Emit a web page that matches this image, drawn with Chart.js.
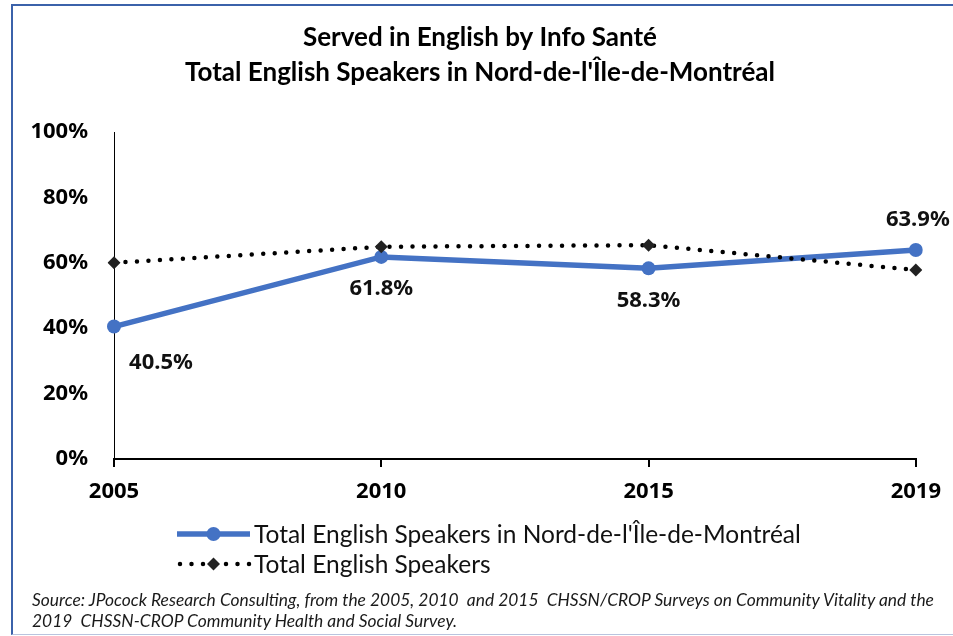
<!DOCTYPE html>
<html>
<head>
<meta charset="utf-8">
<script src="https://cdn.jsdelivr.net/npm/chart.js@4/dist/chart.umd.min.js"></script>
<style>
  html, body { margin: 0; padding: 0; background: #fff; }
  #wrap { position: relative; width: 953px; height: 636px; overflow: hidden; }
  #frame { position: absolute; left: 11px; top: 4px; width: 1000px; height: 628px;
           border-left: 2px solid #3b62aa; border-top: 2px solid #3b62aa; border-bottom: 1px solid #b9c4de; }
  #c { position: absolute; left: 0; top: 0; }
  #source { position: absolute; left: 32px; top: 589px; width: 915px; font-family: Lato, sans-serif;
            font-style: italic; font-size: 17.4px; line-height: 21px; color: #1a1a1a; white-space: nowrap; }
</style>
</head>
<body>
<div id="wrap">
  <div id="frame"></div>
  <canvas id="c" width="953" height="636"></canvas>
  <div id="source">Source: JPocock Research Consulting, from the 2005, 2010&nbsp; and 2015&nbsp; CHSSN/CROP Surveys on Community Vitality and the<br>2019&nbsp; CHSSN-CROP Community Health and Social Survey.</div>
</div>
<script>
const titleLines = ["Served in English by Info Santé", "Total English Speakers in Nord-de-l'Île-de-Montréal"];
const years = ["2005", "2010", "2015", "2019"];
const nordValues = [40.5, 61.8, 58.3, 63.9];
const totalValues = [60.0, 64.9, 65.4, 57.8];
const seriesNames = ["Total English Speakers in Nord-de-l'Île-de-Montréal", "Total English Speakers"];
const yTicks = [0, 20, 40, 60, 80, 100];

const BLUE = '#4472C4';
const labelFont = 'bold 22px "Noto Sans", sans-serif';

const valueLabels = {
  id: 'valueLabels',
  afterDatasetsDraw(chart, args, opts) {
    const ctx = chart.ctx;
    const meta = chart.getDatasetMeta(0);
    ctx.save();
    ctx.font = labelFont;
    ctx.fillStyle = '#111';
    ctx.textAlign = 'center';
    ctx.textBaseline = 'middle';
    meta.data.forEach((pt, i) => {
      const pos = opts.positions[i];
      let dx = 0, dy = 32;
      if (pos === 'belowRight') { dx = 47; dy = 36; }
      if (pos === 'above') { dx = 2; dy = -30; }
      ctx.fillText(chart.data.datasets[0].data[i].toFixed(1) + '%', pt.x + dx, pt.y + dy);
    });
    ctx.restore();
  }
};

const customLegend = {
  id: 'customLegend',
  afterDraw(chart, args, opts) {
    const ctx = chart.ctx;
    const x0 = opts.x, x1 = opts.x + opts.sampleWidth, xm = (x0 + x1) / 2;
    chart.data.datasets.forEach((ds, i) => {
      const y = opts.rows[i];
      ctx.save();
      ctx.strokeStyle = ds.borderColor;
      ctx.lineWidth = ds.borderWidth;
      ctx.lineCap = ds.borderCapStyle || 'butt';
      ctx.setLineDash(ds.borderDash || []);
      ctx.beginPath();
      if (ds.borderDash) { ctx.moveTo(x0 + 3, y); } else { ctx.moveTo(x0, y); }
      ctx.lineTo(x1, y);
      ctx.stroke();
      ctx.setLineDash([]);
      ctx.fillStyle = ds.pointBackgroundColor;
      ctx.beginPath();
      if (ds.pointStyle === 'rectRot') {
        const r = ds.pointRadius;
        ctx.moveTo(xm, y - r); ctx.lineTo(xm + r, y); ctx.lineTo(xm, y + r); ctx.lineTo(xm - r, y); ctx.closePath();
      } else {
        ctx.arc(xm, y, ds.pointRadius, 0, Math.PI * 2);
      }
      ctx.fill();
      ctx.fillStyle = '#111';
      ctx.font = opts.font;
      ctx.textAlign = 'left';
      ctx.textBaseline = 'middle';
      ctx.fillText(ds.label, x1 + 4, y + 1);
      ctx.restore();
    });
  }
};

const titleShift = {
  id: 'titleShift',
  afterLayout(chart, args, opts) {
    if (chart.titleBlock) { chart.titleBlock.left = opts.left; }
  }
};

new Chart(document.getElementById('c'), {
  type: 'line',
  data: {
    labels: years,
    datasets: [
      {
        label: seriesNames[0], data: nordValues,
        borderColor: BLUE, backgroundColor: BLUE, borderWidth: 5.5,
        pointRadius: 7, pointHoverRadius: 7, pointBackgroundColor: BLUE, pointBorderWidth: 0,
        tension: 0, order: 2
      },
      {
        label: seriesNames[1], data: totalValues,
        borderColor: '#000', backgroundColor: '#000', borderWidth: 4.5,
        borderDash: [0, 11.5], borderCapStyle: 'round',
        pointStyle: 'rectRot', pointRadius: 6.5, pointHoverRadius: 6.5,
        pointBackgroundColor: '#222', pointBorderWidth: 0,
        tension: 0, order: 1
      }
    ]
  },
  options: {
    responsive: false,
    animation: false,
    layout: { padding: { left: 14, right: 33, top: 0, bottom: 127 } },
    plugins: {
      legend: { display: false },
      tooltip: { enabled: false },
      title: {
        display: true, text: titleLines, color: '#000',
        font: { family: 'Lato, sans-serif', weight: 'bold', size: 26, lineHeight: 35 / 26 },
        padding: { top: 20, bottom: 42 }
      },
      titleShift: { left: 40 },
      valueLabels: { positions: ['belowRight', 'below', 'below', 'above'] },
      customLegend: { x: 177, sampleWidth: 73, rows: [534, 564], font: '24.5px Lato, sans-serif' }
    },
    scales: {
      x: {
        type: 'category', offset: false,
        grid: { display: true, drawOnChartArea: false, drawTicks: true, tickLength: 8, color: '#000', lineWidth: 2, offset: false },
        border: { display: true, color: '#000', width: 2 },
        ticks: { color: '#000', font: { family: '"Noto Sans", sans-serif', weight: 'bold', size: 22 }, padding: 12, maxRotation: 0 },
        afterFit(s) { s.height = 50; }
      },
      y: {
        min: 0, max: 100,
        afterBuildTicks(s) { s.ticks = yTicks.map(v => ({ value: v })); },
        grid: { display: false, drawTicks: false },
        border: { display: true, color: '#000', width: 1 },
        ticks: { color: '#000', font: { family: '"Noto Sans", sans-serif', weight: 'bold', size: 22 }, padding: 26,
                 callback: v => v + '%' },
        afterFit(s) { s.width = 100; }
      }
    }
  },
  plugins: [titleShift, valueLabels, customLegend]
});
</script>
</body>
</html>
